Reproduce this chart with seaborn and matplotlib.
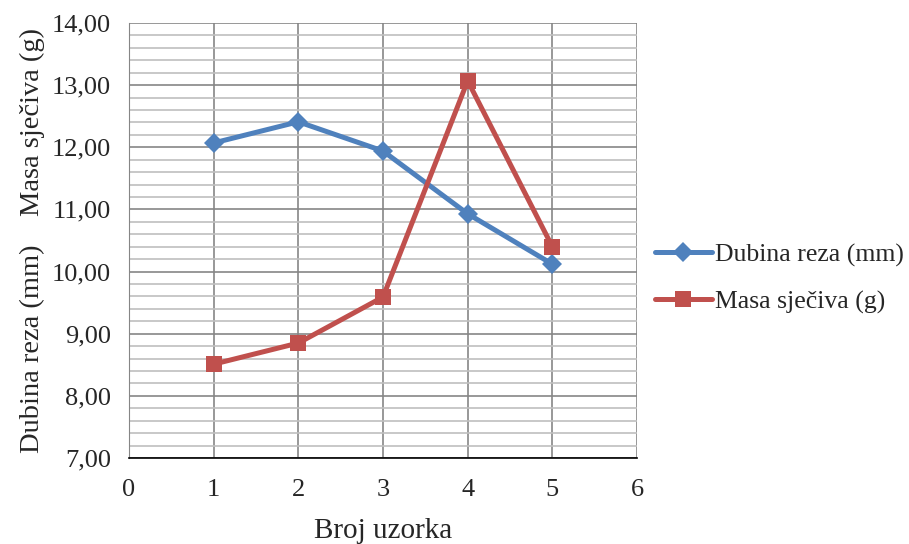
import matplotlib
matplotlib.use("Agg")
import matplotlib.pyplot as plt
import seaborn as sns
import pandas as pd
import numpy as np
from matplotlib.ticker import MultipleLocator, FuncFormatter

samples = [1, 2, 3, 4, 5]
dubina = [12.07, 12.41, 11.94, 10.93, 10.12]
masa = [8.51, 8.85, 9.59, 13.07, 10.40]
series_names = ["Dubina reza (mm)", "Masa sječiva (g)"]

df = pd.DataFrame({
    "x": samples * 2,
    "y": dubina + masa,
    "serija": [series_names[0]] * 5 + [series_names[1]] * 5,
})

sns.set_style("white")
plt.rcParams["font.family"] = ["Liberation Serif", "DejaVu Serif"]

fig = plt.figure(figsize=(9.09, 5.44), dpi=100)
ax = fig.add_axes([129/909, 1-458/544, (637-129)/909, (458-23)/544])

colors = {series_names[0]: "#4F81BD", series_names[1]: "#C0504D"}
markers = {series_names[0]: "D", series_names[1]: "s"}
sns.lineplot(data=df, x="x", y="y", hue="serija", style="serija",
             palette=colors, markers=markers, dashes=False,
             linewidth=3.6, markersize=11, markeredgewidth=0, ax=ax)

ax.set_xlim(0, 6)
ax.set_ylim(7, 14)
ax.xaxis.set_major_locator(MultipleLocator(1))
ax.yaxis.set_major_locator(MultipleLocator(1))
ax.yaxis.set_minor_locator(MultipleLocator(0.2))
ax.yaxis.set_major_formatter(FuncFormatter(lambda v, p: f"{v:.2f}".replace(".", ",")))
ax.grid(which="major", axis="both", color="#868686", linewidth=1.2)
ax.grid(which="minor", axis="y", color="#BFBFBF", linewidth=1.2)
ax.set_axisbelow(True)
for s in ["top", "right"]:
    ax.spines[s].set_visible(False)
ax.spines["left"].set_color("#868686")
ax.spines["bottom"].set_color("black")
ax.spines["bottom"].set_linewidth(1.2)
ax.tick_params(axis="both", which="major", direction="out", length=6, width=1,
               color="#868686", labelsize=19, pad=7)
ax.tick_params(axis="x", which="major", pad=9)
ax.tick_params(axis="y", which="minor", length=0)
ax.set_xlabel("Broj uzorka", fontsize=21, labelpad=12)
ax.set_ylabel("Dubina reza (mm)    Masa sječiva (g)", fontsize=20.5, labelpad=5)

handles, labels = ax.get_legend_handles_labels()
ax.legend(handles, labels, loc="center left", bbox_to_anchor=(655/909, 1-278.5/544),
          bbox_transform=fig.transFigure, frameon=False, fontsize=18.5,
          borderaxespad=0, borderpad=0,
          handlelength=2.2, handletextpad=0.12, labelspacing=0.92)

# marker sizes per series
for line in ax.get_lines() + list(ax.get_legend().get_lines()):
    if line.get_marker() == "s":
        line.set_markersize(12)
    elif line.get_marker() == "D":
        line.set_markersize(10.5)

fig.savefig("out.png", dpi=100)
